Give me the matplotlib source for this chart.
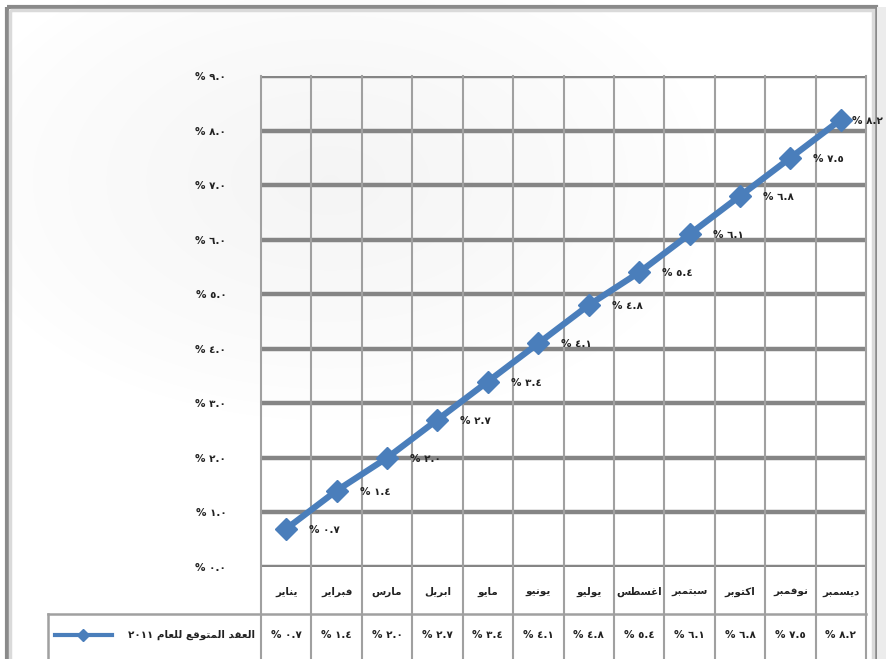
import matplotlib
matplotlib.use("Agg")
import numpy as np
import matplotlib.pyplot as plt
from matplotlib.patches import Rectangle
from matplotlib.lines import Line2D

months = ["يناير", "فبراير", "مارس", "ابريل", "مايو", "يونيو",
          "يوليو", "اغسطس", "سبتمبر", "اكتوبر", "نوفمبر", "ديسمبر"]
values = [0.7, 1.4, 2.0, 2.7, 3.4, 4.1, 4.8, 5.4, 6.1, 6.8, 7.5, 8.2]
y_ticks = [0, 1, 2, 3, 4, 5, 6, 7, 8, 9]
series_name = "العقد المتوقع للعام ٢٠١١"

# ---- minimal Arabic shaping (presentation forms) + visual ordering ----
FORMS = {
    'ا': (0xFE8D, 0xFE8E), 'أ': (0xFE83, 0xFE84), 'إ': (0xFE87, 0xFE88),
    'ب': (0xFE8F, 0xFE90, 0xFE91, 0xFE92), 'ة': (0xFE93, 0xFE94),
    'ت': (0xFE95, 0xFE96, 0xFE97, 0xFE98), 'ث': (0xFE99, 0xFE9A, 0xFE9B, 0xFE9C),
    'ج': (0xFE9D, 0xFE9E, 0xFE9F, 0xFEA0), 'ح': (0xFEA1, 0xFEA2, 0xFEA3, 0xFEA4),
    'خ': (0xFEA5, 0xFEA6, 0xFEA7, 0xFEA8), 'د': (0xFEA9, 0xFEAA),
    'ذ': (0xFEAB, 0xFEAC), 'ر': (0xFEAD, 0xFEAE), 'ز': (0xFEAF, 0xFEB0),
    'س': (0xFEB1, 0xFEB2, 0xFEB3, 0xFEB4), 'ش': (0xFEB5, 0xFEB6, 0xFEB7, 0xFEB8),
    'ص': (0xFEB9, 0xFEBA, 0xFEBB, 0xFEBC), 'ض': (0xFEBD, 0xFEBE, 0xFEBF, 0xFEC0),
    'ط': (0xFEC1, 0xFEC2, 0xFEC3, 0xFEC4), 'ظ': (0xFEC5, 0xFEC6, 0xFEC7, 0xFEC8),
    'ع': (0xFEC9, 0xFECA, 0xFECB, 0xFECC), 'غ': (0xFECD, 0xFECE, 0xFECF, 0xFED0),
    'ف': (0xFED1, 0xFED2, 0xFED3, 0xFED4), 'ق': (0xFED5, 0xFED6, 0xFED7, 0xFED8),
    'ك': (0xFED9, 0xFEDA, 0xFEDB, 0xFEDC), 'ل': (0xFEDD, 0xFEDE, 0xFEDF, 0xFEE0),
    'م': (0xFEE1, 0xFEE2, 0xFEE3, 0xFEE4), 'ن': (0xFEE5, 0xFEE6, 0xFEE7, 0xFEE8),
    'ه': (0xFEE9, 0xFEEA, 0xFEEB, 0xFEEC), 'و': (0xFEED, 0xFEEE),
    'ى': (0xFEEF, 0xFEF0), 'ي': (0xFEF1, 0xFEF2, 0xFEF3, 0xFEF4),
}


def shape(word):
    out = []
    n = len(word)
    for i, c in enumerate(word):
        if c not in FORMS:
            out.append(c)
            continue
        f = FORMS[c]
        prev = word[i - 1] if i > 0 else None
        nxt = word[i + 1] if i < n - 1 else None
        jp = prev in FORMS and len(FORMS[prev]) == 4
        jn = len(f) == 4 and nxt in FORMS
        if jp and jn:
            g = f[3]
        elif jp:
            g = f[1]
        elif jn:
            g = f[2]
        else:
            g = f[0]
        out.append(chr(g))
    return ''.join(out)


def visual(text):
    vis = []
    for w in reversed(text.split(' ')):
        if any(c in FORMS for c in w):
            vis.append(shape(w)[::-1])
        else:
            vis.append(w)
    return ' '.join(vis)


AR_DIGITS = str.maketrans("0123456789", "٠١٢٣٤٥٦٧٨٩")


def pct(v):
    return "% " + f"{v:.1f}".translate(AR_DIGITS)


plt.rcParams['font.family'] = ['DejaVu Sans']

W, H = 886, 659
fig = plt.figure(figsize=(W / 100, H / 100), dpi=100)
fig.patch.set_facecolor('white')

# soft background shading (top-left) and frame
bg = fig.add_axes([0, 0, 1, 1], zorder=-5)
bg.axis('off')
yy, xx = np.mgrid[0:H, 0:W]
d = np.sqrt(((xx - 330) / 380.0) ** 2 + ((yy - 180) / 240.0) ** 2)
shade = 1.0 - 0.04 * np.clip(1 - d, 0, 1) ** 0.8
img = np.dstack([shade, shade, shade])
bg.imshow(img, extent=[0, W, H, 0], aspect='auto', interpolation='bilinear')
bg.set_xlim(0, W)
bg.set_ylim(H, 0)
bg.add_patch(Rectangle((7, 7), 869, H + 10, fill=False,
                       edgecolor='#8a8a8a', linewidth=3))
bg.add_patch(Rectangle((10, 10), 863, H + 10, fill=False,
                       edgecolor='#dadada', linewidth=2.5))
bg.add_patch(Rectangle((877, 7), 9, H, facecolor='#ececec',
                       edgecolor='none'))

L, R, T, B = 261, 866, 76, 567
ax = fig.add_axes([L / W, 1 - B / H, (R - L) / W, (B - T) / H])
ax.set_facecolor('none')
ax.set_xlim(0, 12)
ax.set_ylim(0, 9)
for s in ax.spines.values():
    s.set_visible(False)

grid_c = '#858585'
for yv in y_ticks:
    ax.axhline(yv, color=grid_c, lw=3.2, zorder=1)
for i in range(13):
    ax.plot([i, i], [-3, 9], color='#a0a0a0', lw=1.5, clip_on=False, zorder=1)

x = [i + 0.5 for i in range(len(values))]
ax.plot(x, values, color='#4a7ebb', lw=4.5, marker='D', markersize=11,
        markerfacecolor='#4a7ebb', markeredgecolor='#4a7ebb', zorder=3)

for k, (xi, v) in enumerate(zip(x, values)):
    off = 11 if k == len(values) - 1 else 23
    ax.annotate(pct(v), (xi, v), xytext=(off, -1), textcoords='offset pixels',
                ha='left', va='center', fontsize=7.5, fontweight='bold',
                color='#222222', zorder=4)

ax.set_xticks([])
ax.set_yticks(y_ticks)
ax.set_yticklabels([pct(t) for t in y_ticks], fontsize=7.5, fontweight='bold',
                   color='#222222')
ax.tick_params(axis='y', length=0, pad=25)

# data table below the axes
px = 9 / (B - T)  # data units per pixel in y
colw = (R - L) / 12
row1_bottom = -47 * px
row2_bottom = -92 * px
xl = -(L - 48) / colw
ax.plot([xl, 12], [row1_bottom, row1_bottom],
        color='#a0a0a0', lw=1.8, clip_on=False)
ax.plot([xl, xl], [row1_bottom, -3],
        color='#a0a0a0', lw=1.8, clip_on=False)

for xi, m in zip(x, months):
    ax.text(xi, row1_bottom / 2 - 0.03, visual(m), ha='center', va='center',
            fontsize=7.5, fontweight='bold', color='#222222', clip_on=False)
ymid = (row1_bottom + row2_bottom) / 2 + 0.03
for xi, v in zip(x, values):
    ax.text(xi, ymid, pct(v), ha='center',
            va='center', fontsize=7.5, fontweight='bold', color='#222222',
            clip_on=False)

# legend key in the table
x0 = -(L - 55) / colw
x1 = -(L - 112) / colw
ax.add_line(Line2D([x0, x1], [ymid, ymid], color='#4a7ebb', lw=3,
                   clip_on=False))
ax.add_line(Line2D([(x0 + x1) / 2], [ymid], marker='D', markersize=6,
                   color='#4a7ebb', clip_on=False))
ax.text(-6 / colw, ymid, visual(series_name), ha='right', va='center',
        fontsize=7.5, fontweight='bold', color='#222222', clip_on=False)

fig.savefig('out.png', dpi=100, facecolor='white')
